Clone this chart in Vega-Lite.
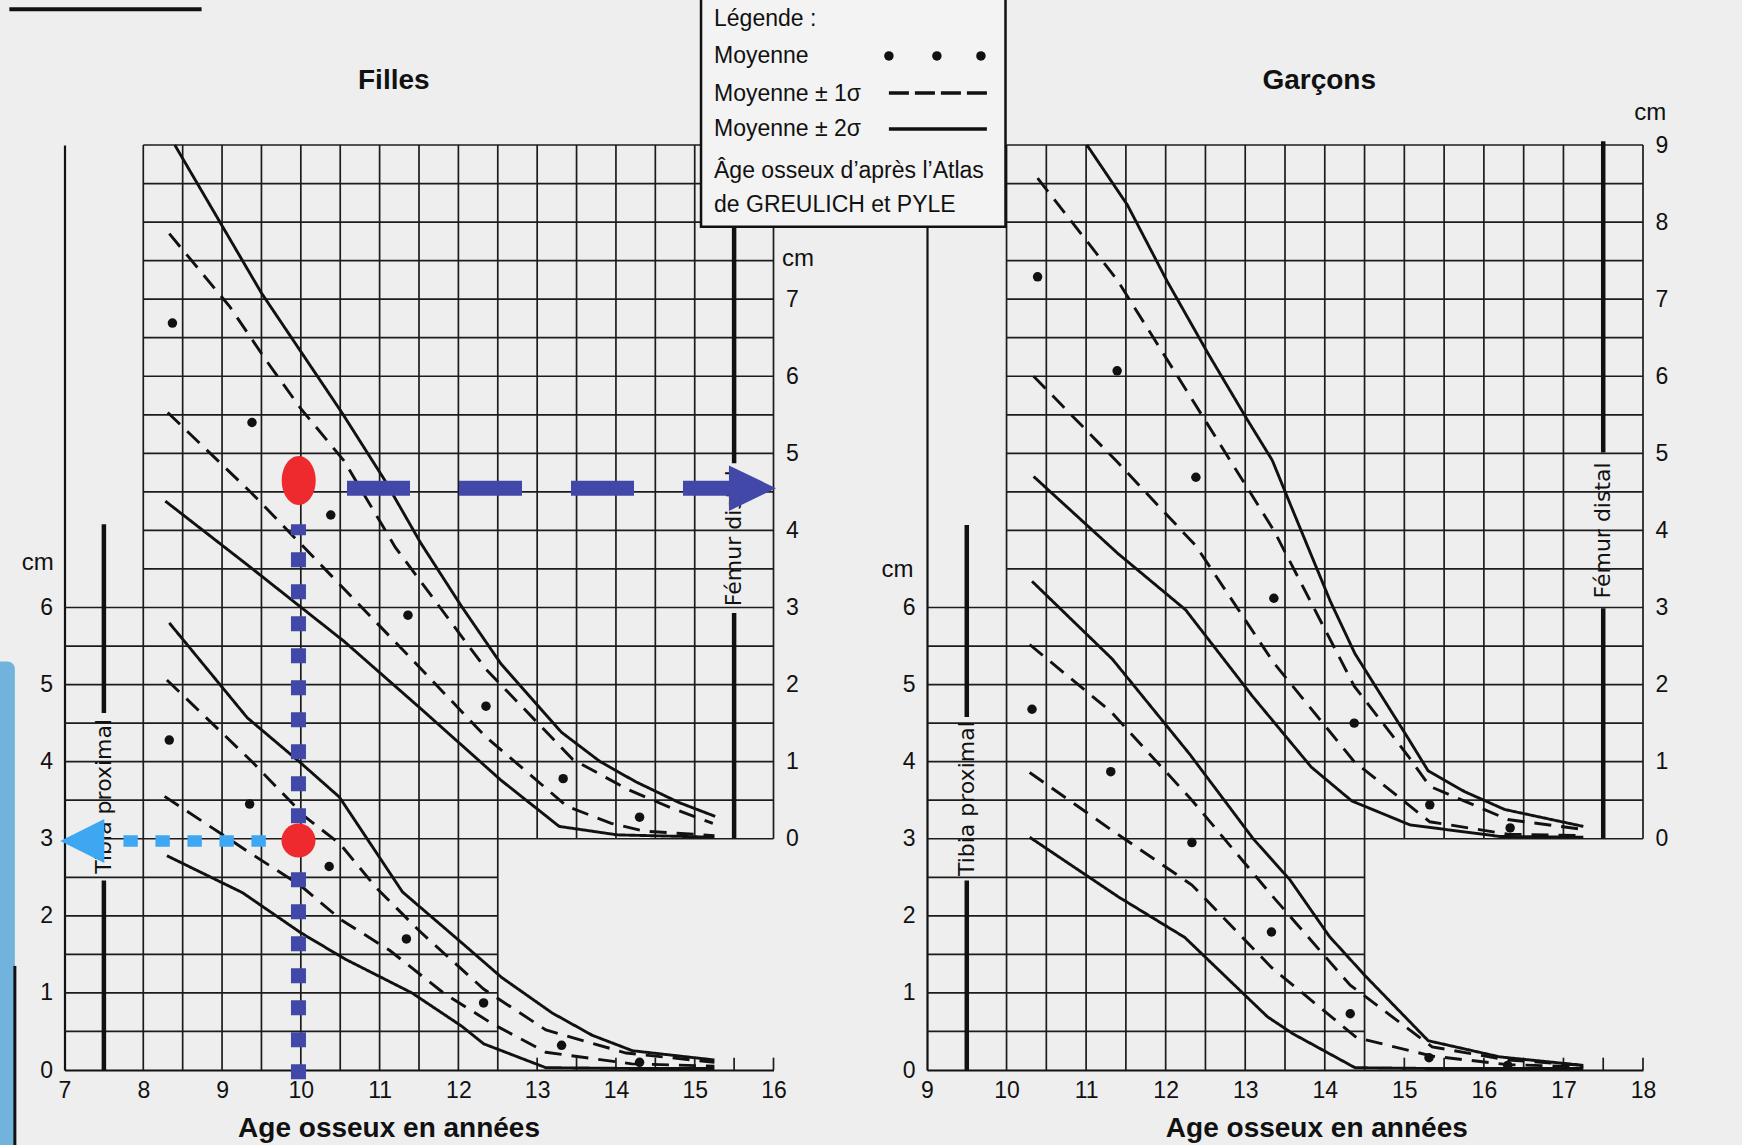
{
"$schema": "https://vega.github.io/schema/vega-lite/v6.json",
"width": 1742, "height": 1145,
"autosize": {"type": "none"},
"padding": 0,
"background": "#eeeeee",
"config": {
  "view": {"stroke": null},
  "font": "Liberation Sans",
  "axis": {"grid": false, "ticks": false, "tickSize": 0, "labelFont": "Liberation Sans", "labelFontSize": 23, "labelColor": "#111111", "domainColor": "#111111", "domainWidth": 2.2, "labelFlush": false, "labelOverlap": false}
},
"resolve": {"scale": {"x": "independent", "y": "independent"}},
"datasets": {
  "gGrid": [
    {"x":8,"x2":8,"y":0,"y2":12},{"x":8.5,"x2":8.5,"y":0,"y2":12},{"x":9,"x2":9,"y":0,"y2":12},{"x":9.5,"x2":9.5,"y":0,"y2":12},{"x":10,"x2":10,"y":0,"y2":12},{"x":10.5,"x2":10.5,"y":0,"y2":12},{"x":11,"x2":11,"y":0,"y2":12},{"x":11.5,"x2":11.5,"y":0,"y2":12},{"x":12,"x2":12,"y":0,"y2":12},{"x":12.5,"x2":12.5,"y":0,"y2":12},
    {"x":13,"x2":13,"y":3,"y2":12},{"x":13.5,"x2":13.5,"y":3,"y2":12},{"x":14,"x2":14,"y":3,"y2":12},{"x":14.5,"x2":14.5,"y":3,"y2":12},{"x":15,"x2":15,"y":3,"y2":12},{"x":16,"x2":16,"y":3,"y2":12},
    {"x":7,"x2":12.5,"y":0.5,"y2":0.5},{"x":7,"x2":12.5,"y":1,"y2":1},{"x":7,"x2":12.5,"y":1.5,"y2":1.5},{"x":7,"x2":12.5,"y":2,"y2":2},{"x":7,"x2":12.5,"y":2.5,"y2":2.5},
    {"x":7,"x2":16,"y":3,"y2":3},{"x":7,"x2":16,"y":3.5,"y2":3.5},{"x":7,"x2":16,"y":4,"y2":4},{"x":7,"x2":16,"y":4.5,"y2":4.5},{"x":7,"x2":16,"y":5,"y2":5},{"x":7,"x2":16,"y":5.5,"y2":5.5},{"x":7,"x2":16,"y":6,"y2":6},
    {"x":8,"x2":16,"y":6.5,"y2":6.5},{"x":8,"x2":16,"y":7,"y2":7},{"x":8,"x2":16,"y":7.5,"y2":7.5},{"x":8,"x2":16,"y":8,"y2":8},{"x":8,"x2":16,"y":8.5,"y2":8.5},{"x":8,"x2":16,"y":9,"y2":9},{"x":8,"x2":16,"y":9.5,"y2":9.5},{"x":8,"x2":16,"y":10,"y2":10},{"x":8,"x2":16,"y":10.5,"y2":10.5},{"x":8,"x2":16,"y":11,"y2":11},{"x":8,"x2":16,"y":11.5,"y2":11.5},{"x":8,"x2":16,"y":12,"y2":12},
    {"x":13,"x2":13,"y":0,"y2":0.16},{"x":13.5,"x2":13.5,"y":0,"y2":0.16},{"x":14,"x2":14,"y":0,"y2":0.16},{"x":14.5,"x2":14.5,"y":0,"y2":0.16},{"x":15,"x2":15,"y":0,"y2":0.16},{"x":15.5,"x2":15.5,"y":0,"y2":0.16},{"x":16,"x2":16,"y":0,"y2":0.16}
  ],
  "bGrid": [
    {"x":10,"x2":10,"y":0,"y2":12},{"x":10.5,"x2":10.5,"y":0,"y2":12},{"x":11,"x2":11,"y":0,"y2":12},{"x":11.5,"x2":11.5,"y":0,"y2":12},{"x":12,"x2":12,"y":0,"y2":12},{"x":12.5,"x2":12.5,"y":0,"y2":12},{"x":13,"x2":13,"y":0,"y2":12},{"x":13.5,"x2":13.5,"y":0,"y2":12},{"x":14,"x2":14,"y":0,"y2":12},{"x":14.5,"x2":14.5,"y":0,"y2":12},
    {"x":15,"x2":15,"y":3,"y2":12},{"x":15.5,"x2":15.5,"y":3,"y2":12},{"x":16,"x2":16,"y":3,"y2":12},{"x":16.5,"x2":16.5,"y":3,"y2":12},{"x":17,"x2":17,"y":3,"y2":12},{"x":18,"x2":18,"y":3,"y2":12},
    {"x":9,"x2":14.5,"y":0.5,"y2":0.5},{"x":9,"x2":14.5,"y":1,"y2":1},{"x":9,"x2":14.5,"y":1.5,"y2":1.5},{"x":9,"x2":14.5,"y":2,"y2":2},{"x":9,"x2":14.5,"y":2.5,"y2":2.5},
    {"x":9,"x2":18,"y":3,"y2":3},{"x":9,"x2":18,"y":3.5,"y2":3.5},{"x":9,"x2":18,"y":4,"y2":4},{"x":9,"x2":18,"y":4.5,"y2":4.5},{"x":9,"x2":18,"y":5,"y2":5},{"x":9,"x2":18,"y":5.5,"y2":5.5},{"x":9,"x2":18,"y":6,"y2":6},
    {"x":10,"x2":18,"y":6.5,"y2":6.5},{"x":10,"x2":18,"y":7,"y2":7},{"x":10,"x2":18,"y":7.5,"y2":7.5},{"x":10,"x2":18,"y":8,"y2":8},{"x":10,"x2":18,"y":8.5,"y2":8.5},{"x":10,"x2":18,"y":9,"y2":9},{"x":10,"x2":18,"y":9.5,"y2":9.5},{"x":10,"x2":18,"y":10,"y2":10},{"x":10,"x2":18,"y":10.5,"y2":10.5},{"x":10,"x2":18,"y":11,"y2":11},{"x":10,"x2":18,"y":11.5,"y2":11.5},{"x":10,"x2":18,"y":12,"y2":12},
    {"x":15,"x2":15,"y":0,"y2":0.16},{"x":15.5,"x2":15.5,"y":0,"y2":0.16},{"x":16,"x2":16,"y":0,"y2":0.16},{"x":16.5,"x2":16.5,"y":0,"y2":0.16},{"x":17,"x2":17,"y":0,"y2":0.16},{"x":17.5,"x2":17.5,"y":0,"y2":0.16},{"x":18,"x2":18,"y":0,"y2":0.16}
  ],
  "gThick": [{"x":7.5,"y":0,"y2":2.46},{"x":7.5,"y":4.63,"y2":7.08},{"x":15.5,"y":3,"y2":5.93},{"x":15.5,"y":7.87,"y2":11.0}],
  "bThick": [{"x":9.5,"y":0,"y2":2.46},{"x":9.5,"y":4.58,"y2":7.07},{"x":17.5,"y":3,"y2":5.99},{"x":17.5,"y":8.01,"y2":12.05}],
  "gTib": [
    {"age":8.33,"cm":4.28,"s":"moyenne"},{"age":9.35,"cm":3.45,"s":"moyenne"},{"age":10.36,"cm":2.64,"s":"moyenne"},{"age":11.34,"cm":1.7,"s":"moyenne"},{"age":12.32,"cm":0.87,"s":"moyenne"},{"age":13.31,"cm":0.32,"s":"moyenne"},{"age":14.3,"cm":0.1,"s":"moyenne"},
    {"age":8.33,"cm":5.8,"s":"+2σ"},{"age":9.32,"cm":4.57,"s":"+2σ"},{"age":9.98,"cm":4.0,"s":"+2σ"},{"age":10.49,"cm":3.54,"s":"+2σ"},{"age":11.29,"cm":2.31,"s":"+2σ"},{"age":12.02,"cm":1.67,"s":"+2σ"},{"age":12.55,"cm":1.2,"s":"+2σ"},{"age":13.19,"cm":0.74,"s":"+2σ"},{"age":13.7,"cm":0.45,"s":"+2σ"},{"age":14.21,"cm":0.25,"s":"+2σ"},{"age":15.25,"cm":0.13,"s":"+2σ"},
    {"age":8.3,"cm":5.06,"s":"+1σ"},{"age":9.4,"cm":3.98,"s":"+1σ"},{"age":10.06,"cm":3.28,"s":"+1σ"},{"age":10.5,"cm":2.93,"s":"+1σ"},{"age":10.96,"cm":2.36,"s":"+1σ"},{"age":11.53,"cm":1.78,"s":"+1σ"},{"age":12.32,"cm":1.05,"s":"+1σ"},{"age":13.11,"cm":0.52,"s":"+1σ"},{"age":14.13,"cm":0.22,"s":"+1σ"},{"age":15.25,"cm":0.1,"s":"+1σ"},
    {"age":8.27,"cm":3.55,"s":"-1σ"},{"age":9.32,"cm":2.84,"s":"-1σ"},{"age":10.0,"cm":2.39,"s":"-1σ"},{"age":10.51,"cm":1.95,"s":"-1σ"},{"age":11.13,"cm":1.55,"s":"-1σ"},{"age":11.81,"cm":1.0,"s":"-1σ"},{"age":12.43,"cm":0.6,"s":"-1σ"},{"age":13.11,"cm":0.23,"s":"-1σ"},{"age":14.2,"cm":0.08,"s":"-1σ"},{"age":15.25,"cm":0.05,"s":"-1σ"},
    {"age":8.3,"cm":2.78,"s":"-2σ"},{"age":9.26,"cm":2.3,"s":"-2σ"},{"age":10.0,"cm":1.78,"s":"-2σ"},{"age":10.56,"cm":1.44,"s":"-2σ"},{"age":11.41,"cm":1.0,"s":"-2σ"},{"age":12.04,"cm":0.57,"s":"-2σ"},{"age":12.32,"cm":0.34,"s":"-2σ"},{"age":13.11,"cm":0.03,"s":"-2σ"},{"age":14.2,"cm":0.02,"s":"-2σ"},{"age":15.25,"cm":0.02,"s":"-2σ"}
  ],
  "gFem": [
    {"age":8.37,"cm":6.69,"s":"moyenne"},{"age":9.38,"cm":5.4,"s":"moyenne"},{"age":10.38,"cm":4.2,"s":"moyenne"},{"age":11.36,"cm":2.9,"s":"moyenne"},{"age":12.35,"cm":1.72,"s":"moyenne"},{"age":13.33,"cm":0.78,"s":"moyenne"},{"age":14.3,"cm":0.28,"s":"moyenne"},
    {"age":8.4,"cm":9.0,"s":"+2σ"},{"age":9.5,"cm":7.08,"s":"+2σ"},{"age":10.52,"cm":5.53,"s":"+2σ"},{"age":11.06,"cm":4.66,"s":"+2σ"},{"age":11.52,"cm":3.84,"s":"+2σ"},{"age":12.03,"cm":3.03,"s":"+2σ"},{"age":12.54,"cm":2.27,"s":"+2σ"},{"age":13.11,"cm":1.61,"s":"+2σ"},{"age":13.31,"cm":1.38,"s":"+2σ"},{"age":13.8,"cm":1.0,"s":"+2σ"},{"age":14.25,"cm":0.74,"s":"+2σ"},{"age":14.8,"cm":0.47,"s":"+2σ"},{"age":15.26,"cm":0.29,"s":"+2σ"},
    {"age":8.33,"cm":7.85,"s":"+1σ"},{"age":9.1,"cm":6.9,"s":"+1σ"},{"age":9.55,"cm":6.22,"s":"+1σ"},{"age":10.0,"cm":5.58,"s":"+1σ"},{"age":10.55,"cm":4.9,"s":"+1σ"},{"age":11.2,"cm":3.78,"s":"+1σ"},{"age":12.35,"cm":2.2,"s":"+1σ"},{"age":13.45,"cm":1.03,"s":"+1σ"},{"age":14.15,"cm":0.64,"s":"+1σ"},{"age":14.7,"cm":0.4,"s":"+1σ"},{"age":15.23,"cm":0.2,"s":"+1σ"},
    {"age":8.31,"cm":5.53,"s":"-1σ"},{"age":9.38,"cm":4.48,"s":"-1σ"},{"age":10.38,"cm":3.42,"s":"-1σ"},{"age":11.36,"cm":2.38,"s":"-1σ"},{"age":12.35,"cm":1.32,"s":"-1σ"},{"age":13.38,"cm":0.42,"s":"-1σ"},{"age":13.94,"cm":0.2,"s":"-1σ"},{"age":14.35,"cm":0.1,"s":"-1σ"},{"age":15.25,"cm":0.04,"s":"-1σ"},
    {"age":8.28,"cm":4.38,"s":"-2σ"},{"age":9.35,"cm":3.53,"s":"-2σ"},{"age":10.55,"cm":2.56,"s":"-2σ"},{"age":11.52,"cm":1.69,"s":"-2σ"},{"age":12.54,"cm":0.76,"s":"-2σ"},{"age":13.28,"cm":0.16,"s":"-2σ"},{"age":14.02,"cm":0.05,"s":"-2σ"},{"age":15.25,"cm":0.02,"s":"-2σ"}
  ],
  "bTib": [
    {"age":10.32,"cm":4.68,"s":"moyenne"},{"age":11.31,"cm":3.87,"s":"moyenne"},{"age":12.33,"cm":2.95,"s":"moyenne"},{"age":13.33,"cm":1.79,"s":"moyenne"},{"age":14.32,"cm":0.73,"s":"moyenne"},{"age":15.31,"cm":0.16,"s":"moyenne"},{"age":16.3,"cm":0.06,"s":"moyenne"},
    {"age":10.32,"cm":6.34,"s":"+2σ"},{"age":11.33,"cm":5.33,"s":"+2σ"},{"age":12.3,"cm":4.1,"s":"+2σ"},{"age":13.1,"cm":3.0,"s":"+2σ"},{"age":13.56,"cm":2.47,"s":"+2σ"},{"age":14.06,"cm":1.73,"s":"+2σ"},{"age":14.51,"cm":1.22,"s":"+2σ"},{"age":15.3,"cm":0.38,"s":"+2σ"},{"age":16.2,"cm":0.17,"s":"+2σ"},{"age":17.25,"cm":0.06,"s":"+2σ"},
    {"age":10.29,"cm":5.52,"s":"+1σ"},{"age":11.31,"cm":4.65,"s":"+1σ"},{"age":12.33,"cm":3.5,"s":"+1σ"},{"age":13.33,"cm":2.27,"s":"+1σ"},{"age":14.32,"cm":1.1,"s":"+1σ"},{"age":15.35,"cm":0.3,"s":"+1σ"},{"age":16.3,"cm":0.13,"s":"+1σ"},{"age":17.25,"cm":0.06,"s":"+1σ"},
    {"age":10.29,"cm":3.86,"s":"-1σ"},{"age":11.31,"cm":3.12,"s":"-1σ"},{"age":12.33,"cm":2.4,"s":"-1σ"},{"age":13.33,"cm":1.33,"s":"-1σ"},{"age":14.4,"cm":0.42,"s":"-1σ"},{"age":15.35,"cm":0.18,"s":"-1σ"},{"age":16.3,"cm":0.07,"s":"-1σ"},{"age":17.25,"cm":0.04,"s":"-1σ"},
    {"age":10.29,"cm":3.02,"s":"-2σ"},{"age":11.4,"cm":2.25,"s":"-2σ"},{"age":12.24,"cm":1.72,"s":"-2σ"},{"age":13.28,"cm":0.69,"s":"-2σ"},{"age":13.6,"cm":0.47,"s":"-2σ"},{"age":14.38,"cm":0.03,"s":"-2σ"},{"age":15.3,"cm":0.02,"s":"-2σ"},{"age":16.3,"cm":0.02,"s":"-2σ"},{"age":17.25,"cm":0.02,"s":"-2σ"}
  ],
  "bFem": [
    {"age":10.39,"cm":7.29,"s":"moyenne"},{"age":11.39,"cm":6.07,"s":"moyenne"},{"age":12.38,"cm":4.69,"s":"moyenne"},{"age":13.36,"cm":3.12,"s":"moyenne"},{"age":14.37,"cm":1.5,"s":"moyenne"},{"age":15.32,"cm":0.44,"s":"moyenne"},{"age":16.33,"cm":0.14,"s":"moyenne"},
    {"age":11.01,"cm":9.0,"s":"+2σ"},{"age":11.52,"cm":8.22,"s":"+2σ"},{"age":12.02,"cm":7.23,"s":"+2σ"},{"age":12.53,"cm":6.3,"s":"+2σ"},{"age":13.03,"cm":5.43,"s":"+2σ"},{"age":13.34,"cm":4.91,"s":"+2σ"},{"age":13.57,"cm":4.33,"s":"+2σ"},{"age":14.07,"cm":3.08,"s":"+2σ"},{"age":14.38,"cm":2.4,"s":"+2σ"},{"age":15.05,"cm":1.3,"s":"+2σ"},{"age":15.3,"cm":0.88,"s":"+2σ"},{"age":15.76,"cm":0.61,"s":"+2σ"},{"age":16.26,"cm":0.38,"s":"+2σ"},{"age":17.25,"cm":0.16,"s":"+2σ"},
    {"age":10.39,"cm":8.57,"s":"+1σ"},{"age":11.39,"cm":7.25,"s":"+1σ"},{"age":12.38,"cm":5.62,"s":"+1σ"},{"age":13.36,"cm":4.0,"s":"+1σ"},{"age":14.37,"cm":1.98,"s":"+1σ"},{"age":15.05,"cm":1.07,"s":"+1σ"},{"age":15.32,"cm":0.68,"s":"+1σ"},{"age":16.3,"cm":0.25,"s":"+1σ"},{"age":17.25,"cm":0.12,"s":"+1σ"},
    {"age":10.34,"cm":6.0,"s":"-1σ"},{"age":11.39,"cm":4.89,"s":"-1σ"},{"age":12.38,"cm":3.8,"s":"-1σ"},{"age":13.36,"cm":2.28,"s":"-1σ"},{"age":14.37,"cm":1.0,"s":"-1σ"},{"age":15.32,"cm":0.22,"s":"-1σ"},{"age":16.3,"cm":0.06,"s":"-1σ"},{"age":17.25,"cm":0.04,"s":"-1σ"},
    {"age":10.34,"cm":4.7,"s":"-2σ"},{"age":11.4,"cm":3.7,"s":"-2σ"},{"age":12.25,"cm":2.97,"s":"-2σ"},{"age":13.09,"cm":1.85,"s":"-2σ"},{"age":13.83,"cm":0.93,"s":"-2σ"},{"age":14.34,"cm":0.49,"s":"-2σ"},{"age":15.07,"cm":0.18,"s":"-2σ"},{"age":16.2,"cm":0.03,"s":"-2σ"},{"age":17.25,"cm":0.02,"s":"-2σ"}
  ],
  "gRot": [{"x":7.5,"y":3.55,"text":"Tibia proximal"},{"x":15.5,"y":6.9,"text":"Fémur distal"}],
  "bRot": [{"x":9.5,"y":3.52,"text":"Tibia proximal"},{"x":17.5,"y":7.0,"text":"Fémur distal"}],
  "gCm": [{"x":6.66,"y":6.58,"text":"cm"},{"x":16.31,"y":10.52,"text":"cm"}],
  "bCm": [{"x":8.63,"y":6.49,"text":"cm"},{"x":18.09,"y":12.41,"text":"cm"}],
  "gBold": [{"x":11.18,"y":12.73,"text":"Filles"},{"x":11.12,"y":-0.87,"text":"Age osseux en années"}],
  "bBold": [{"x":13.93,"y":12.73,"text":"Garçons"},{"x":13.9,"y":-0.87,"text":"Age osseux en années"}],
  "legendText": [
    {"x":15.245,"y":13.544,"text":"Légende :"},
    {"x":15.245,"y":13.064,"text":"Moyenne"},
    {"x":15.245,"y":12.57,"text":"Moyenne ± 1σ"},
    {"x":15.245,"y":12.117,"text":"Moyenne ± 2σ"},
    {"x":15.245,"y":11.572,"text":"Âge osseux d’après l’Atlas"},
    {"x":15.245,"y":11.131,"text":"de GREULICH et PYLE"}
  ]
},
"layer": [
  {"data": {"values": [{"x":6.18,"x2":6.37,"y":5.3,"y2":-1.2}]},
   "mark": {"type": "rect", "color": "#72b3dd", "cornerRadiusTopRight": 10},
   "encoding": {"x": {"field":"x","type":"quantitative","scale":{"domain":[7,16],"range":[64.5,773.5],"nice":false,"zero":false},"axis":null},"x2":{"field":"x2"},
                "y": {"field":"y","type":"quantitative","scale":{"domain":[0,12],"range":[1070,145],"nice":false,"zero":false},"axis":null},"y2":{"field":"y2"}}},
  {"data": {"values": [{"x":6.37,"y":1.35,"y2":-1.2}]},
   "mark": {"type": "rule", "color": "#111111", "strokeWidth": 3},
   "encoding": {"x": {"field":"x","type":"quantitative","scale":{"domain":[7,16],"range":[64.5,773.5],"nice":false,"zero":false},"axis":null},
                "y": {"field":"y","type":"quantitative","scale":{"domain":[0,12],"range":[1070,145],"nice":false,"zero":false},"axis":null},"y2":{"field":"y2"}}},
  {"data": {"name": "gGrid"},
   "mark": {"type": "rule", "color": "#1c1c1c", "strokeWidth": 1.7},
   "encoding": {"x": {"field":"x","type":"quantitative","scale":{"domain":[7,16],"range":[64.5,773.5],"nice":false,"zero":false},
                      "axis":{"orient":"bottom","offset":-75,"values":[7,8,9,10,11,12,13,14,15,16],"format":"d","labelBaseline":"alphabetic","labelPadding":27,"title":null}},
                "x2":{"field":"x2"},
                "y": {"field":"y","type":"quantitative","scale":{"domain":[0,12],"range":[1070,145],"nice":false,"zero":false},
                      "axis":{"orient":"left","offset":-64.5,"values":[0,1,2,3,4,5,6],"format":"d","labelPadding":12,"title":null}},
                "y2":{"field":"y2"}}},
  {"data": {"name": "gThick"},
   "mark": {"type": "rule", "color": "#111111", "strokeWidth": 4.5},
   "encoding": {"x": {"field":"x","type":"quantitative","scale":{"domain":[7,16],"range":[64.5,773.5],"nice":false,"zero":false},"axis":null},
                "y": {"field":"y","type":"quantitative","scale":{"domain":[0,12],"range":[1070,145],"nice":false,"zero":false},"axis":null},"y2":{"field":"y2"}}},
  {"data": {"name": "bGrid"},
   "mark": {"type": "rule", "color": "#1c1c1c", "strokeWidth": 1.7},
   "encoding": {"x": {"field":"x","type":"quantitative","scale":{"domain":[9,18],"range":[927,1643],"nice":false,"zero":false},
                      "axis":{"orient":"bottom","offset":-75,"values":[9,10,11,12,13,14,15,16,17,18],"format":"d","labelBaseline":"alphabetic","labelPadding":27,"title":null}},
                "x2":{"field":"x2"},
                "y": {"field":"y","type":"quantitative","scale":{"domain":[0,12],"range":[1070,145],"nice":false,"zero":false},
                      "axis":{"orient":"left","offset":-927,"values":[0,1,2,3,4,5,6],"format":"d","labelPadding":12,"title":null}},
                "y2":{"field":"y2"}}},
  {"data": {"name": "bThick"},
   "mark": {"type": "rule", "color": "#111111", "strokeWidth": 4.5},
   "encoding": {"x": {"field":"x","type":"quantitative","scale":{"domain":[9,18],"range":[927,1643],"nice":false,"zero":false},"axis":null},
                "y": {"field":"y","type":"quantitative","scale":{"domain":[0,12],"range":[1070,145],"nice":false,"zero":false},"axis":null},"y2":{"field":"y2"}}},
  {"data": {"name": "gTib"}, "transform": [{"filter": "datum.s !== 'moyenne'"}],
   "mark": {"type": "line", "color": "#111111", "strokeWidth": 2.9},
   "encoding": {"x": {"field":"age","type":"quantitative","scale":{"domain":[7,16],"range":[64.5,773.5],"nice":false,"zero":false},"axis":null},
                "y": {"field":"cm","type":"quantitative","scale":{"domain":[0,12],"range":[1070,145],"nice":false,"zero":false},"axis":null},
                "strokeDash": {"field":"s","type":"nominal","scale":{"domain":["+1σ","-1σ","+2σ","-2σ"],"range":[[17,10],[17,10],[1,0],[1,0]]},"legend":null}}},
  {"data": {"name": "gFem"}, "transform": [{"filter": "datum.s !== 'moyenne'"}],
   "mark": {"type": "line", "color": "#111111", "strokeWidth": 2.9},
   "encoding": {"x": {"field":"age","type":"quantitative","scale":{"domain":[7,16],"range":[64.5,773.5],"nice":false,"zero":false},"axis":null},
                "y": {"field":"cm","type":"quantitative","scale":{"domain":[-3,9],"range":[1070,145],"nice":false,"zero":false},
                      "axis":{"orient":"right","offset":-968.5,"values":[0,1,2,3,4,5,6,7],"format":"d","labelPadding":12,"domain":false,"title":null}},
                "strokeDash": {"field":"s","type":"nominal","scale":{"domain":["+1σ","-1σ","+2σ","-2σ"],"range":[[17,10],[17,10],[1,0],[1,0]]},"legend":null}}},
  {"data": {"name": "bTib"}, "transform": [{"filter": "datum.s !== 'moyenne'"}],
   "mark": {"type": "line", "color": "#111111", "strokeWidth": 2.9},
   "encoding": {"x": {"field":"age","type":"quantitative","scale":{"domain":[9,18],"range":[927,1643],"nice":false,"zero":false},"axis":null},
                "y": {"field":"cm","type":"quantitative","scale":{"domain":[0,12],"range":[1070,145],"nice":false,"zero":false},"axis":null},
                "strokeDash": {"field":"s","type":"nominal","scale":{"domain":["+1σ","-1σ","+2σ","-2σ"],"range":[[17,10],[17,10],[1,0],[1,0]]},"legend":null}}},
  {"data": {"name": "bFem"}, "transform": [{"filter": "datum.s !== 'moyenne'"}],
   "mark": {"type": "line", "color": "#111111", "strokeWidth": 2.9},
   "encoding": {"x": {"field":"age","type":"quantitative","scale":{"domain":[9,18],"range":[927,1643],"nice":false,"zero":false},"axis":null},
                "y": {"field":"cm","type":"quantitative","scale":{"domain":[-3,9],"range":[1070,145],"nice":false,"zero":false},
                      "axis":{"orient":"right","offset":-99,"values":[0,1,2,3,4,5,6,7,8,9],"format":"d","labelPadding":12,"domain":false,"title":null}},
                "strokeDash": {"field":"s","type":"nominal","scale":{"domain":["+1σ","-1σ","+2σ","-2σ"],"range":[[17,10],[17,10],[1,0],[1,0]]},"legend":null}}},
  {"data": {"name": "gTib"}, "transform": [{"filter": "datum.s === 'moyenne'"}],
   "mark": {"type": "point", "filled": true, "shape": "circle", "size": 90, "color": "#111111", "opacity": 1},
   "encoding": {"x": {"field":"age","type":"quantitative","scale":{"domain":[7,16],"range":[64.5,773.5],"nice":false,"zero":false},"axis":null},
                "y": {"field":"cm","type":"quantitative","scale":{"domain":[0,12],"range":[1070,145],"nice":false,"zero":false},"axis":null}}},
  {"data": {"name": "gFem"}, "transform": [{"filter": "datum.s === 'moyenne'"}],
   "mark": {"type": "point", "filled": true, "shape": "circle", "size": 90, "color": "#111111", "opacity": 1},
   "encoding": {"x": {"field":"age","type":"quantitative","scale":{"domain":[7,16],"range":[64.5,773.5],"nice":false,"zero":false},"axis":null},
                "y": {"field":"cm","type":"quantitative","scale":{"domain":[-3,9],"range":[1070,145],"nice":false,"zero":false},"axis":null}}},
  {"data": {"name": "bTib"}, "transform": [{"filter": "datum.s === 'moyenne'"}],
   "mark": {"type": "point", "filled": true, "shape": "circle", "size": 90, "color": "#111111", "opacity": 1},
   "encoding": {"x": {"field":"age","type":"quantitative","scale":{"domain":[9,18],"range":[927,1643],"nice":false,"zero":false},"axis":null},
                "y": {"field":"cm","type":"quantitative","scale":{"domain":[0,12],"range":[1070,145],"nice":false,"zero":false},"axis":null}}},
  {"data": {"name": "bFem"}, "transform": [{"filter": "datum.s === 'moyenne'"}],
   "mark": {"type": "point", "filled": true, "shape": "circle", "size": 90, "color": "#111111", "opacity": 1},
   "encoding": {"x": {"field":"age","type":"quantitative","scale":{"domain":[9,18],"range":[927,1643],"nice":false,"zero":false},"axis":null},
                "y": {"field":"cm","type":"quantitative","scale":{"domain":[-3,9],"range":[1070,145],"nice":false,"zero":false},"axis":null}}},
  {"data": {"name": "gRot"},
   "mark": {"type": "text", "angle": 270, "align": "center", "baseline": "middle", "font": "DejaVu Sans", "fontSize": 22, "color": "#111111"},
   "encoding": {"x": {"field":"x","type":"quantitative","scale":{"domain":[7,16],"range":[64.5,773.5],"nice":false,"zero":false},"axis":null},
                "y": {"field":"y","type":"quantitative","scale":{"domain":[0,12],"range":[1070,145],"nice":false,"zero":false},"axis":null},
                "text": {"field":"text"}}},
  {"data": {"name": "bRot"},
   "mark": {"type": "text", "angle": 270, "align": "center", "baseline": "middle", "font": "DejaVu Sans", "fontSize": 22, "color": "#111111"},
   "encoding": {"x": {"field":"x","type":"quantitative","scale":{"domain":[9,18],"range":[927,1643],"nice":false,"zero":false},"axis":null},
                "y": {"field":"y","type":"quantitative","scale":{"domain":[0,12],"range":[1070,145],"nice":false,"zero":false},"axis":null},
                "text": {"field":"text"}}},
  {"data": {"name": "gCm"},
   "mark": {"type": "text", "align": "center", "baseline": "middle", "fontSize": 24, "color": "#111111"},
   "encoding": {"x": {"field":"x","type":"quantitative","scale":{"domain":[7,16],"range":[64.5,773.5],"nice":false,"zero":false},"axis":null},
                "y": {"field":"y","type":"quantitative","scale":{"domain":[0,12],"range":[1070,145],"nice":false,"zero":false},"axis":null},
                "text": {"field":"text"}}},
  {"data": {"name": "bCm"},
   "mark": {"type": "text", "align": "center", "baseline": "middle", "fontSize": 24, "color": "#111111"},
   "encoding": {"x": {"field":"x","type":"quantitative","scale":{"domain":[9,18],"range":[927,1643],"nice":false,"zero":false},"axis":null},
                "y": {"field":"y","type":"quantitative","scale":{"domain":[0,12],"range":[1070,145],"nice":false,"zero":false},"axis":null},
                "text": {"field":"text"}}},
  {"data": {"name": "gBold"},
   "mark": {"type": "text", "align": "center", "baseline": "alphabetic", "fontSize": 28, "fontWeight": "bold", "color": "#111111"},
   "encoding": {"x": {"field":"x","type":"quantitative","scale":{"domain":[7,16],"range":[64.5,773.5],"nice":false,"zero":false},"axis":null},
                "y": {"field":"y","type":"quantitative","scale":{"domain":[0,12],"range":[1070,145],"nice":false,"zero":false},"axis":null},
                "text": {"field":"text"}}},
  {"data": {"name": "bBold"},
   "mark": {"type": "text", "align": "center", "baseline": "alphabetic", "fontSize": 28, "fontWeight": "bold", "color": "#111111"},
   "encoding": {"x": {"field":"x","type":"quantitative","scale":{"domain":[9,18],"range":[927,1643],"nice":false,"zero":false},"axis":null},
                "y": {"field":"y","type":"quantitative","scale":{"domain":[0,12],"range":[1070,145],"nice":false,"zero":false},"axis":null},
                "text": {"field":"text"}}},
  {"data": {"values": [{"x":9.97,"y":-0.12,"y2":7.08}]},
   "mark": {"type": "rule", "color": "#4148a8", "strokeWidth": 15, "strokeDash": [15, 17]},
   "encoding": {"x": {"field":"x","type":"quantitative","scale":{"domain":[7,16],"range":[64.5,773.5],"nice":false,"zero":false},"axis":null},
                "y": {"field":"y","type":"quantitative","scale":{"domain":[0,12],"range":[1070,145],"nice":false,"zero":false},"axis":null},"y2":{"field":"y2"}}},
  {"data": {"values": [{"x":7.748,"x2":9.571,"y":2.97}]},
   "mark": {"type": "rule", "color": "#3da7f2", "strokeWidth": 11.5, "strokeDash": [14.4, 17.6]},
   "encoding": {"x": {"field":"x","type":"quantitative","scale":{"domain":[7,16],"range":[64.5,773.5],"nice":false,"zero":false},"axis":null},"x2":{"field":"x2"},
                "y": {"field":"y","type":"quantitative","scale":{"domain":[0,12],"range":[1070,145],"nice":false,"zero":false},"axis":null}}},
  {"data": {"values": [{"x":10.586,"x2":15.435,"y":7.548}]},
   "mark": {"type": "rule", "color": "#4148a8", "strokeWidth": 15, "strokeDash": [63, 49]},
   "encoding": {"x": {"field":"x","type":"quantitative","scale":{"domain":[7,16],"range":[64.5,773.5],"nice":false,"zero":false},"axis":null},"x2":{"field":"x2"},
                "y": {"field":"y","type":"quantitative","scale":{"domain":[0,12],"range":[1070,145],"nice":false,"zero":false},"axis":null}}},
  {"data": {"values": [{"x":15.733,"y":7.548}]},
   "mark": {"type": "point", "filled": true, "shape": "M-1,-0.97L1,0L-1,0.97Z", "size": 2209, "color": "#4148a8", "opacity": 1},
   "encoding": {"x": {"field":"x","type":"quantitative","scale":{"domain":[7,16],"range":[64.5,773.5],"nice":false,"zero":false},"axis":null},
                "y": {"field":"y","type":"quantitative","scale":{"domain":[0,12],"range":[1070,145],"nice":false,"zero":false},"axis":null}}},
  {"data": {"values": [{"x":7.226,"y":2.97}]},
   "mark": {"type": "point", "filled": true, "shape": "M1,-1L-1,0L1,1Z", "size": 1936, "color": "#3da7f2", "opacity": 1},
   "encoding": {"x": {"field":"x","type":"quantitative","scale":{"domain":[7,16],"range":[64.5,773.5],"nice":false,"zero":false},"axis":null},
                "y": {"field":"y","type":"quantitative","scale":{"domain":[0,12],"range":[1070,145],"nice":false,"zero":false},"axis":null}}},
  {"data": {"values": [{"x":9.973,"y":7.648}]},
   "mark": {"type": "point", "filled": true, "shape": "M-0.694,0A0.694,1,0,1,0,0.694,0A0.694,1,0,1,0,-0.694,0Z", "size": 2401, "color": "#ef2a2f", "opacity": 1},
   "encoding": {"x": {"field":"x","type":"quantitative","scale":{"domain":[7,16],"range":[64.5,773.5],"nice":false,"zero":false},"axis":null},
                "y": {"field":"y","type":"quantitative","scale":{"domain":[0,12],"range":[1070,145],"nice":false,"zero":false},"axis":null}}},
  {"data": {"values": [{"x":9.97,"y":2.977}]},
   "mark": {"type": "point", "filled": true, "shape": "circle", "size": 1156, "color": "#ef2a2f", "opacity": 1},
   "encoding": {"x": {"field":"x","type":"quantitative","scale":{"domain":[7,16],"range":[64.5,773.5],"nice":false,"zero":false},"axis":null},
                "y": {"field":"y","type":"quantitative","scale":{"domain":[0,12],"range":[1070,145],"nice":false,"zero":false},"axis":null}}},
  {"data": {"values": [{"x":15.08,"x2":18.945,"y":14.2,"y2":10.94}]},
   "mark": {"type": "rect", "fill": "#f3f3f3", "stroke": "#111111", "strokeWidth": 2.5},
   "encoding": {"x": {"field":"x","type":"quantitative","scale":{"domain":[7,16],"range":[64.5,773.5],"nice":false,"zero":false},"axis":null},"x2":{"field":"x2"},
                "y": {"field":"y","type":"quantitative","scale":{"domain":[0,12],"range":[1070,145],"nice":false,"zero":false},"axis":null},"y2":{"field":"y2"}}},
  {"data": {"name": "legendText"},
   "mark": {"type": "text", "align": "left", "baseline": "alphabetic", "fontSize": 23, "color": "#111111"},
   "encoding": {"x": {"field":"x","type":"quantitative","scale":{"domain":[7,16],"range":[64.5,773.5],"nice":false,"zero":false},"axis":null},
                "y": {"field":"y","type":"quantitative","scale":{"domain":[0,12],"range":[1070,145],"nice":false,"zero":false},"axis":null},
                "text": {"field":"text"}}},
  {"data": {"values": [{"x":17.465,"y":13.155},{"x":18.074,"y":13.155},{"x":18.633,"y":13.155}]},
   "mark": {"type": "point", "filled": true, "shape": "circle", "size": 90, "color": "#111111", "opacity": 1},
   "encoding": {"x": {"field":"x","type":"quantitative","scale":{"domain":[7,16],"range":[64.5,773.5],"nice":false,"zero":false},"axis":null},
                "y": {"field":"y","type":"quantitative","scale":{"domain":[0,12],"range":[1070,145],"nice":false,"zero":false},"axis":null}}},
  {"data": {"values": [{"x":17.465,"x2":18.709,"y":12.675}]},
   "mark": {"type": "rule", "color": "#111111", "strokeWidth": 3.5, "strokeDash": [20, 6]},
   "encoding": {"x": {"field":"x","type":"quantitative","scale":{"domain":[7,16],"range":[64.5,773.5],"nice":false,"zero":false},"axis":null},"x2":{"field":"x2"},
                "y": {"field":"y","type":"quantitative","scale":{"domain":[0,12],"range":[1070,145],"nice":false,"zero":false},"axis":null}}},
  {"data": {"values": [{"x":17.465,"x2":18.709,"y":12.208}]},
   "mark": {"type": "rule", "color": "#111111", "strokeWidth": 3.5},
   "encoding": {"x": {"field":"x","type":"quantitative","scale":{"domain":[7,16],"range":[64.5,773.5],"nice":false,"zero":false},"axis":null},"x2":{"field":"x2"},
                "y": {"field":"y","type":"quantitative","scale":{"domain":[0,12],"range":[1070,145],"nice":false,"zero":false},"axis":null}}},
  {"data": {"values": [{"x":6.3,"x2":8.74,"y":13.76}]},
   "mark": {"type": "rule", "color": "#111111", "strokeWidth": 4},
   "encoding": {"x": {"field":"x","type":"quantitative","scale":{"domain":[7,16],"range":[64.5,773.5],"nice":false,"zero":false},"axis":null},"x2":{"field":"x2"},
                "y": {"field":"y","type":"quantitative","scale":{"domain":[0,12],"range":[1070,145],"nice":false,"zero":false},"axis":null}}}
]
}
